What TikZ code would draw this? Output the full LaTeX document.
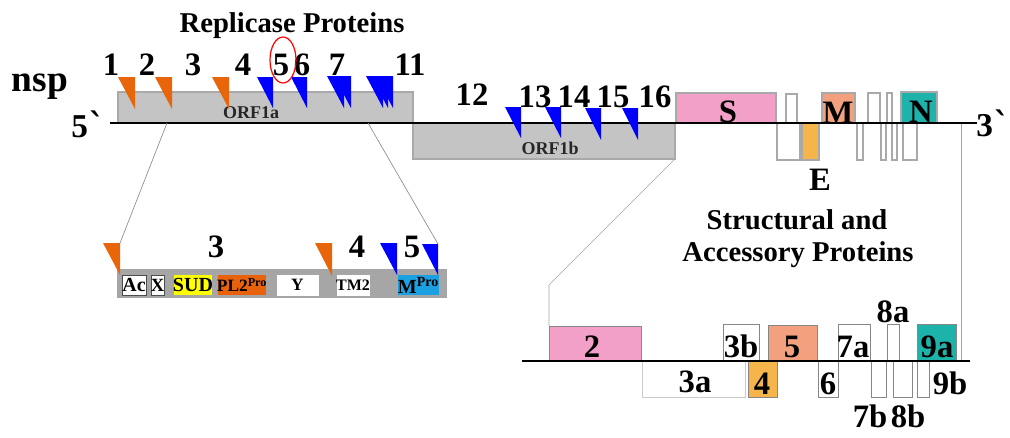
\documentclass[tikz,border=0pt]{standalone}
\usepackage{fontspec}
\setmainfont{Liberation Serif}
\newfontfamily\dvs{DejaVu Serif}
\newcommand\tick{{\dvs\bfseries\symbol{"02CB}}}
\definecolor{triorange}{HTML}{E8650A}
\definecolor{triblue}{HTML}{0000FF}
\definecolor{gfill}{HTML}{C4C4C4}
\definecolor{gdraw}{HTML}{A9A9A9}
\definecolor{insetgray}{HTML}{A6A6A6}
\definecolor{pinkbox}{HTML}{F2A0C8}
\definecolor{salmonbox}{HTML}{F2A07E}
\definecolor{tealbox}{HTML}{1DB3AA}
\definecolor{eggbox}{HTML}{F5B54A}
\definecolor{sudyellow}{HTML}{FFFF00}
\definecolor{plorange}{HTML}{E8620C}
\definecolor{mproblue}{HTML}{1BA1E2}
\definecolor{thinline}{HTML}{8C8C8C}
\newcommand\rbox[7]{\node[#6,minimum width={(#4-#2)*0.75pt},minimum height={(#5-#3)*0.75pt}] (#1) at (#2,#3) {};
  \node[lbl] at (#1.center) {#7};}
\newcommand\tri[5]{\fill[#1] (#2,#3) -- ({#2+#4},#3) -- ({#2+#4},{#3+#5}) -- cycle;}
\begin{document}
\begin{tikzpicture}[x=0.75pt,y=-0.75pt,
  every node/.style={font=\bfseries},
  bx/.style={draw=gdraw,line width=0.8pt,inner sep=0pt,outer sep=0pt,anchor=north west},
  sbx/.style={draw=gdraw!80!black,line width=0.6pt,inner sep=0pt,outer sep=0pt,anchor=north west},
  ibx/.style={draw=black!70,line width=0.5pt,inner sep=0pt,outer sep=0pt,anchor=north west},
  lbl/.style={inner sep=0pt,font=\bfseries\fontsize{13.5}{13.5}\selectfont,text=black!85},
  ilbl/.style={inner sep=0pt,font=\bfseries\fontsize{15}{15}\selectfont},
  num/.style={inner sep=0pt,anchor=base,font=\bfseries\fontsize{24.5}{24.5}\selectfont},
  head/.style={inner sep=0pt,anchor=base,font=\bfseries\fontsize{21.5}{26}\selectfont},
  conn/.style={draw=thinline,line width=0.5pt},
  gline/.style={draw=black,line width=1.2pt}]
\useasboundingbox (0,0) rectangle (1010,437);

% ---- top genome ----
\rbox{orfa}{118}{92}{413}{123}{bx,fill=gfill}{}
\rbox{orfb}{413}{123}{675}{159}{bx,fill=gfill}{}
\node[lbl] at (251,113) {ORF1a};
\node[lbl] at (550,148) {ORF1b};
\rbox{sbox}{676}{93}{776}{123}{bx,fill=pinkbox}{}
\rbox{u1}{786}{94}{797}{123}{bx,fill=white}{}
\rbox{mbox}{822}{93}{855}{123}{bx,fill=salmonbox}{}
\rbox{u2}{868}{93}{880}{123}{bx,fill=white}{}
\rbox{u3}{887}{93}{892}{123}{bx,fill=white}{}
\rbox{nbox}{901}{92}{937}{123}{bx,fill=tealbox}{}
\rbox{d1}{777}{123}{800}{160}{bx,fill=white}{}
\rbox{ebox}{802}{123}{819}{160}{bx,fill=eggbox}{}
\rbox{d2}{857}{123}{863}{160}{bx,fill=white}{}
\rbox{d3}{881}{123}{886}{160}{bx,fill=white}{}
\rbox{d4}{892}{123}{897}{160}{bx,fill=white}{}
\rbox{d5}{903}{123}{917}{160}{bx,fill=white}{}
\coordinate (g5) at (110,123);
\coordinate (g3) at (977,123);
\draw[gline] (g5) -- (g3);

\node[num] at (728,122) {S};
\node[num] at (838,123) {M};
\node[num] at (921,122) {N};
\node[num] at (820,190) {E};
\node[num,font=\bfseries\fontsize{25}{25}\selectfont] at (88,137) {5\tick};
\node[num,font=\bfseries\fontsize{25}{25}\selectfont] at (993,136) {3\tick};
\node[num,font=\bfseries\fontsize{28}{28}\selectfont] at (40,91) {nsp};
\node[head] at (292,32) {Replicase Proteins};
\node[head] at (797,229) {Structural and};
\node[head] at (798,261) {Accessory Proteins};

% triangles ORF1a
\tri{triorange}{118}{77}{17}{32}
\tri{triorange}{155}{77}{17}{32}
\tri{triorange}{212}{77}{17}{32}
\tri{triblue}{257}{77}{16}{31}
\tri{triblue}{291}{77}{16}{31}
\tri{triblue}{327}{76}{17}{32}
\tri{triblue}{334}{76}{17}{32}
\tri{triblue}{366}{76}{17}{32}
\tri{triblue}{371}{76}{17}{32}
\tri{triblue}{376}{76}{17}{32}
% triangles ORF1b
\tri{triblue}{505}{107}{16}{31}
\tri{triblue}{545}{107}{16}{31}
\tri{triblue}{585}{108}{16}{32}
\tri{triblue}{622}{108}{16}{32}

\node[num] at (111,75) {1};
\node[num] at (147,75) {2};
\node[num] at (193,75) {3};
\node[num] at (243,75) {4};
\node[num] (n5) at (281,75) {5};
\node[num] at (302,75) {6};
\node[num] at (337,75) {7};
\node[num] at (410,75) {11};
\node[num] at (472,105) {12};
\node[num] at (535,107) {13};
\node[num] at (574,107) {14};
\node[num] at (613,107) {15};
\node[num] at (655,107) {16};
\draw[red,line width=0.9pt] (283,60) ellipse [x radius=13, y radius=23];

% ---- inset ORF1a ----
\rbox{bar}{117}{269}{447}{298}{inner sep=0pt,outer sep=0pt,anchor=north west,fill=insetgray}{}
\rbox{ac}{122}{275}{146}{295}{ibx,fill=white}{}
\rbox{xb}{151}{275}{164}{295}{ibx,fill=white}{}
\rbox{sud}{174}{275}{212}{295}{inner sep=0pt,outer sep=0pt,anchor=north west,fill=sudyellow}{}
\rbox{pl}{218}{275}{266}{295}{inner sep=0pt,outer sep=0pt,anchor=north west,fill=plorange}{}
\rbox{yb}{277}{275}{318}{295}{ibx,draw=white,fill=white}{}
\rbox{tm}{337}{275}{369}{295}{ibx,draw=white,fill=white}{}
\rbox{mp}{398}{275}{439}{295}{inner sep=0pt,outer sep=0pt,anchor=north west,fill=mproblue}{}
\node[ilbl] at (ac.center) {Ac};
\node[ilbl,font=\bfseries\fontsize{14}{14}\selectfont] at (xb.center) {X};
\node[ilbl] at (sud.center) {SUD};
\node[ilbl,font=\bfseries\fontsize{13}{13}\selectfont] at (pl.center) {PL2\textsuperscript{Pro}};
\node[ilbl,font=\bfseries\fontsize{13}{13}\selectfont] at (yb.center) {Y};
\node[ilbl,font=\bfseries\fontsize{12}{12}\selectfont] at (tm.center) {TM2};
\node[ilbl] at (mp.center) {M\textsuperscript{Pro}};
\tri{triorange}{103}{243}{17}{32}
\tri{triorange}{315}{243}{17}{33}
\tri{triblue}{380}{243}{17}{32}
\tri{triblue}{422}{244}{16}{31}
\node[num] at (216,257) {3};
\node[num] at (357,257) {4};
\node[num] at (412,257) {5};
\coordinate (ia1) at (167,123);
\coordinate (ia2) at (120,243);
\coordinate (ib1) at (368,123);
\coordinate (ib2) at (438,244);
\draw[conn] (ia1) -- (ia2);
\draw[conn] (ib1) -- (ib2);

% ---- bottom right: accessory genes ----
\coordinate (ob1) at (674,160);
\coordinate (ob2) at (549,285);
\draw[conn,draw=thinline!80] (ob1) -- (ob2) -- (549,326);
\coordinate (v1) at (961,124);
\coordinate (v2) at (961,361);
\draw[conn,draw=thinline!80] (v1) -- (v2);
\rbox{b2}{549}{326}{641}{361}{sbx,fill=pinkbox}{}
\rbox{b3a}{642}{361}{745}{397}{sbx,draw=gdraw!60,fill=white}{}
\rbox{b3b}{723}{324}{759}{361}{sbx,fill=white}{}
\rbox{b5}{768}{325}{817}{361}{sbx,fill=salmonbox}{}
\rbox{b4}{748}{361}{777}{397}{sbx,fill=eggbox}{}
\rbox{b6}{818}{361}{838}{397}{sbx,fill=white}{}
\rbox{b7a}{838}{324}{870}{361}{sbx,fill=white}{}
\rbox{b7b}{871}{361}{886}{397}{sbx,fill=white}{}
\rbox{b8a}{887}{324}{899}{361}{sbx,fill=white}{}
\rbox{b8b}{893}{361}{912}{397}{sbx,fill=white}{}
\rbox{b9a}{917}{324}{956}{361}{sbx,fill=tealbox}{}
\rbox{b9b}{917}{361}{929}{397}{sbx,fill=white}{}
\coordinate (l1) at (522,361);
\coordinate (l2) at (970,361);
\draw[gline] (l1) -- (l2);
\node[num] at (592,357) {2};
\node[num] at (741,357) {3b};
\node[num] at (792,357) {5};
\node[num] at (853,357) {7a};
\node[num] at (937,357) {9a};
\node[num] at (893,322) {8a};
\node[num] at (695,392) {3a};
\node[num] at (762,394) {4};
\node[num] at (828,394) {6};
\node[num] at (950,394) {9b};
\node[num] at (870,427) {7b};
\node[num] at (908,427) {8b};
\end{tikzpicture}
\end{document}
